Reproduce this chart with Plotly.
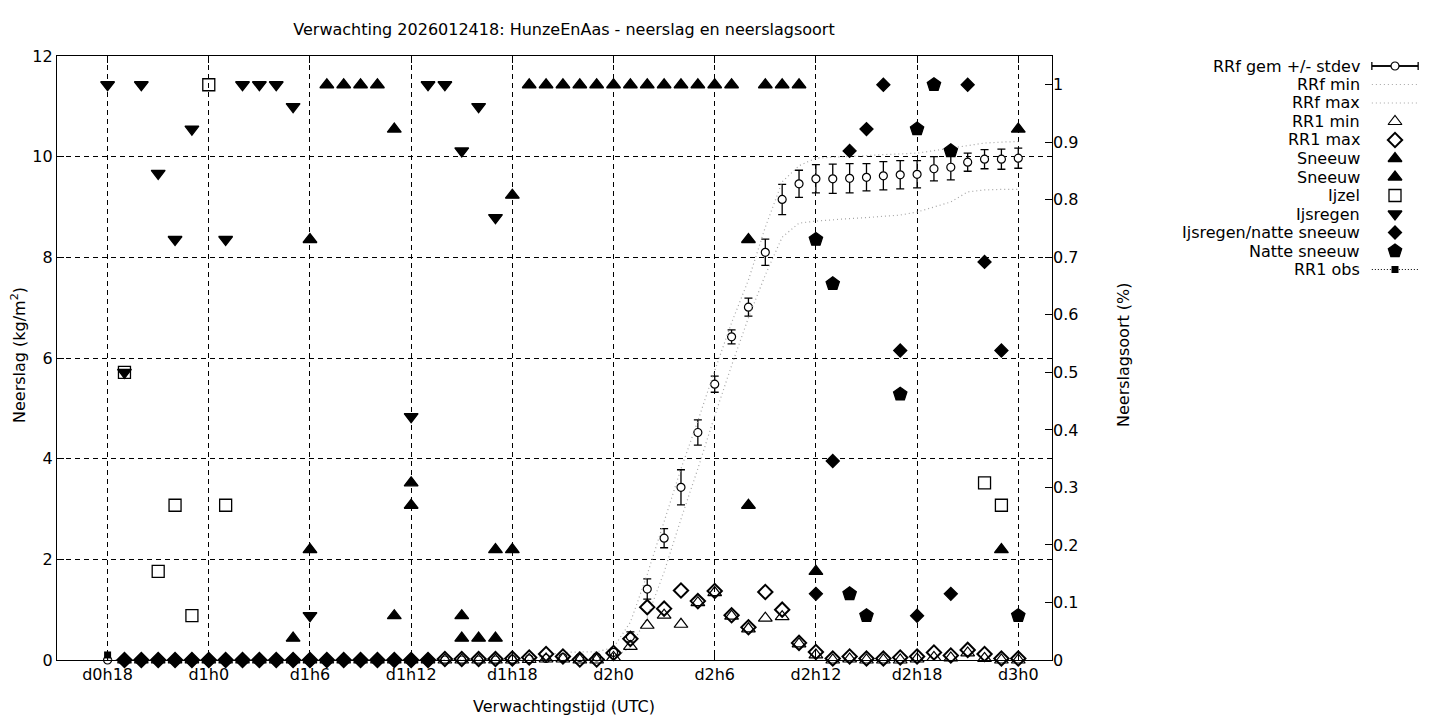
import plotly.graph_objects as go

# forecast hours since d0h0 (d0h18 .. d3h0)
hours = list(range(18, 73))
tick_vals = [18, 24, 30, 36, 42, 48, 54, 60, 66, 72]
tick_text = ["d0h18", "d1h0", "d1h6", "d1h12", "d1h18", "d2h0", "d2h6", "d2h12", "d2h18", "d3h0"]

# cumulative forecast precipitation (kg/m2)
rrf_gem = [0] * 24 + [0.01, 0.02, 0.03, 0.05, 0.05, 0.06, 0.15, 0.46, 1.41, 2.42, 3.43,
                      4.52, 5.48, 6.42, 7.01, 8.10, 9.15, 9.46, 9.56, 9.56, 9.57, 9.59,
                      9.62, 9.64, 9.65, 9.76, 9.79, 9.89, 9.95, 9.95, 9.97]
rrf_sd = [None] * 30 + [0.04, 0.10, 0.20, 0.19, 0.35, 0.25, 0.16, 0.14, 0.18, 0.26, 0.30,
                        0.27, 0.28, 0.29, 0.29, 0.27, 0.28, 0.28, 0.27, 0.24, 0.25, 0.18,
                        0.19, 0.20, 0.20]
rrf_min = [0] * 30 + [0.05, 0.25, 0.85, 1.75, 2.8, 3.8, 4.85, 5.85, 6.8, 7.65, 8.4, 8.68,
                      8.72, 8.75, 8.77, 8.79, 8.81, 8.84, 8.9, 9.0, 9.1, 9.3, 9.34, 9.35,
                      9.35]
rrf_max = [0] * 26 + [0.1, 0.15, 0.16, 0.16, 0.25, 0.75, 1.7, 2.75, 3.8, 4.75, 5.75, 6.7,
                      7.55, 8.6, 9.5, 9.82, 9.97, 9.99, 10.0, 10.02, 10.04, 10.05, 10.07,
                      10.12, 10.17, 10.22, 10.27, 10.29, 10.3]

# hourly precipitation, ensemble min / max (kg/m2)
rr1_max = [None] + [0] * 19 + [0.02, 0.02, 0.02, 0.02, 0.03, 0.05, 0.12, 0.07, 0.01, 0.01,
                               0.14, 0.42, 1.05, 1.02, 1.38, 1.17, 1.37, 0.89, 0.65, 1.35,
                               1.0, 0.34, 0.16, 0.03, 0.07, 0.03, 0.03, 0.05, 0.07, 0.15,
                               0.09, 0.2, 0.12, 0.03, 0.03]
rr1_min = [None] + [0] * 24 + [0.01, 0.02, 0.02, 0, 0, 0.05, 0.27, 0.69, 0.89, 0.71, 1.14,
                               1.34, 0.87, 0.62, 0.83, 0.86, 0.32, 0.1, 0, 0.02, 0, 0, 0,
                               0.02, 0.05, 0.04, 0.14, 0.03, 0, 0]

# precipitation type fractions (right axis)
sneeuw1_h = [29, 30, 31, 32, 33, 34, 35, 36, 39, 40, 41, 42, 43, 44, 45, 46, 47, 48, 49,
             50, 51, 52, 53, 54, 55, 56, 57, 58, 59, 60, 71, 72]
sneeuw1_v = [0.038, 0.731, 1, 1, 1, 1, 0.923, 0.308, 0.077, 0.038, 0.192, 0.808, 1, 1, 1,
             1, 1, 1, 1, 1, 1, 1, 1, 1, 1, 0.731, 1, 1, 1, 0.154, 0.192, 0.923]
sneeuw2_h = [30, 35, 36, 39, 41, 42, 56]
sneeuw2_v = [0.192, 0.077, 0.269, 0.038, 0.038, 0.192, 0.269]
ijzel_h = [19, 21, 22, 23, 24, 25, 70, 71]
ijzel_v = [0.5, 0.154, 0.269, 0.077, 1.0, 0.269, 0.308, 0.269]
ijsregen_h = [18, 19, 20, 21, 22, 23, 25, 26, 27, 28, 29, 30, 36, 37, 38, 39, 40, 41]
ijsregen_v = [1, 0.5, 1, 0.846, 0.731, 0.923, 0.731, 1, 1, 1, 0.962, 0.077, 0.423, 1, 1,
              0.885, 0.962, 0.769]
ijs_natte_h = list(range(19, 38)) + [60, 61, 62, 63, 64, 65, 66, 68, 69, 70, 71]
ijs_natte_v = [0] * 19 + [0.115, 0.346, 0.885, 0.923, 1.0, 0.538, 0.077, 0.115, 1.0,
                          0.692, 0.538]
natte_h = [60, 61, 62, 63, 65, 66, 67, 68, 72]
natte_v = [0.731, 0.654, 0.115, 0.077, 0.462, 0.923, 1.0, 0.885, 0.077]

# observed hourly precipitation
obs_h = [18]
obs_v = [0.1]

W, H = 1440, 720
BLACK = "black"
GREY = "rgb(165,165,165)"
FONT = "DejaVu Sans"

# styles, shared by the plot and the hand made key on the right
st_gem = dict(symbol="circle", size=8, color="white", line=dict(color=BLACK, width=1.2))
st_rrf = dict(color=GREY, width=1.2, dash="1px,3px")
st_min = dict(symbol="triangle-up-open", size=12, color=BLACK, line=dict(width=1.2))
st_max = dict(symbol="diamond-open", size=11, color=BLACK, line=dict(width=2))


def filled(sym, sz):
    return dict(symbol=sym, size=sz, color=BLACK, line=dict(color=BLACK, width=1.3))


st_sneeuw = filled("triangle-up", 12)
st_ijzel = dict(symbol="square-open", size=12, color=BLACK, line=dict(width=1.3))
st_ijsregen = filled("triangle-down", 12)
st_ijs_natte = filled("diamond", 10)
st_natte = filled("pentagon", 14)
st_obs_line = dict(color=BLACK, width=1, dash="1px,2px")
st_obs = dict(symbol="square", size=7, color=BLACK)
err = dict(color=BLACK, thickness=1.3, width=4)

fig = go.Figure()

fig.add_trace(go.Scatter(x=hours, y=rrf_gem, mode="markers", marker=st_gem,
                         error_y=dict(type="data", array=rrf_sd, **err), cliponaxis=False))
fig.add_trace(go.Scatter(x=hours, y=rrf_min, mode="lines", line=st_rrf))
fig.add_trace(go.Scatter(x=hours, y=rrf_max, mode="lines", line=st_rrf))
fig.add_trace(go.Scatter(x=hours, y=rr1_min, mode="markers", marker=st_min, cliponaxis=False))
fig.add_trace(go.Scatter(x=hours, y=rr1_max, mode="markers", marker=st_max, cliponaxis=False))

for xs, ys, st in [(sneeuw1_h, sneeuw1_v, st_sneeuw), (sneeuw2_h, sneeuw2_v, st_sneeuw),
                   (ijzel_h, ijzel_v, st_ijzel), (ijsregen_h, ijsregen_v, st_ijsregen),
                   (ijs_natte_h, ijs_natte_v, st_ijs_natte), (natte_h, natte_v, st_natte)]:
    fig.add_trace(go.Scatter(x=xs, y=ys, mode="markers", yaxis="y2", marker=st,
                             cliponaxis=False))

fig.add_trace(go.Scatter(x=obs_h, y=obs_v, mode="lines+markers", line=st_obs_line,
                         marker=st_obs, cliponaxis=False))

# key: text right aligned, sample to the right of it (gnuplot style)
key_names = ["RRf gem +/- stdev", "RRf min", "RRf max", "RR1 min", "RR1 max", "Sneeuw",
             "Sneeuw", "Ijzel", "Ijsregen", "Ijsregen/natte sneeuw", "Natte sneeuw", "RR1 obs"]
key_marks = [st_gem, None, None, st_min, st_max, st_sneeuw, st_sneeuw, st_ijzel,
             st_ijsregen, st_ijs_natte, st_natte, st_obs]
key_lines = {0: dict(color=BLACK, width=1.3), 1: st_rrf, 2: st_rrf, 11: st_obs_line}
KEY_TOP, KEY_STEP, KEY_TEXT_X = 66, 18.5, 1362

for i, name in enumerate(key_names):
    if i in key_lines:
        fig.add_trace(go.Scatter(x=[-1, 1], y=[i, i], mode="lines", line=key_lines[i],
                                 xaxis="x2", yaxis="y3"))
    if i == 0:
        fig.add_trace(go.Scatter(x=[0], y=[i], mode="markers", marker=key_marks[i],
                                 error_x=dict(type="data", array=[1], **err),
                                 xaxis="x2", yaxis="y3", cliponaxis=False))
    elif key_marks[i] is not None:
        fig.add_trace(go.Scatter(x=[0], y=[i], mode="markers", marker=key_marks[i],
                                 xaxis="x2", yaxis="y3", cliponaxis=False))

key_annotations = [
    dict(text=name, showarrow=False, xref="paper", yref="paper",
         x=KEY_TEXT_X / W, y=1 - (KEY_TOP + KEY_STEP * i) / H,
         xanchor="right", yanchor="middle")
    for i, name in enumerate(key_names)
]

plot_l, plot_r, plot_t, plot_b = 57, 1052, 56, 660
key_t = KEY_TOP - KEY_STEP / 2
key_b = key_t + KEY_STEP * len(key_names)

grid = dict(showgrid=True, gridcolor=BLACK, gridwidth=1, griddash="5px,4px",
            zeroline=False, showline=True, linecolor=BLACK, linewidth=1.3,
            ticks="inside", ticklen=7, tickcolor=BLACK, automargin=False)

fig.update_layout(
    width=W, height=H,
    margin=dict(l=0, r=0, t=0, b=0, pad=0, autoexpand=False),
    paper_bgcolor="white", plot_bgcolor="white",
    showlegend=False,
    font=dict(family=FONT, size=16, color=BLACK),
    title=dict(text="Verwachting 2026012418: HunzeEnAas - neerslag en neerslagsoort",
               x=564 / W, xref="container", xanchor="center",
               y=1 - 29 / H, yref="container", yanchor="middle",
               font=dict(size=16)),
    xaxis=dict(domain=[plot_l / W, plot_r / W], range=[15, 74],
               tickvals=tick_vals, ticktext=tick_text, mirror="ticks", **grid),
    yaxis=dict(domain=[1 - plot_b / H, 1 - plot_t / H], range=[0, 12], dtick=2,
               mirror=True, **grid),
    yaxis2=dict(range=[0, 1.05], dtick=0.1, overlaying="y", side="right",
                showgrid=False, zeroline=False, showline=False, automargin=False,
                ticks="inside", ticklen=7, tickcolor=BLACK),
    xaxis2=dict(domain=[1370 / W, 1420 / W], range=[-1.08, 1.08], visible=False,
                anchor="y3", automargin=False),
    yaxis3=dict(domain=[1 - key_b / H, 1 - key_t / H], range=[len(key_names) - 0.5, -0.5],
                visible=False, anchor="x2", automargin=False),
    annotations=[
        dict(text="Neerslag (kg/m<sup>2</sup>)", textangle=-90, showarrow=False,
             xref="paper", yref="paper", x=18 / W, y=1 - 355 / H,
             xanchor="center", yanchor="middle"),
        dict(text="Neerslagsoort (%)", textangle=-90, showarrow=False,
             xref="paper", yref="paper", x=1123 / W, y=1 - 355 / H,
             xanchor="center", yanchor="middle"),
        dict(text="Verwachtingstijd (UTC)", showarrow=False,
             xref="paper", yref="paper", x=564 / W, y=1 - 706 / H,
             xanchor="center", yanchor="middle"),
    ] + key_annotations,
)

fig.write_html("out.html", config={"displayModeBar": False},
               post_script="document.body.style.margin='0';")
